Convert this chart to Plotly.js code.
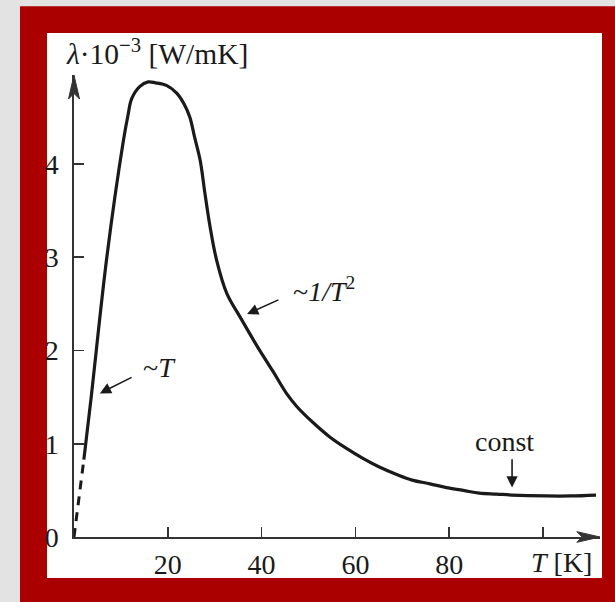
<!DOCTYPE html>
<html>
<head>
<meta charset="utf-8">
<script src="https://cdn.plot.ly/plotly-3.0.1.min.js"></script>
<style>
html,body{margin:0;padding:0;background:#e3e3e3;}
#chart{width:615px;height:602px;}
</style>
</head>
<body>
<div id="chart"></div>
<script>
// Temperature T [K] and thermal conductivity λ·10^-3 [W/mK]
var dashT = [0, 2.1];
var dashL = [0, 0.83];
var curveT = [2.1, 3.6, 7.0, 10.5, 11.5, 12.3, 14.0, 15.8, 17.4, 19.8, 21.9, 23.5, 24.7, 25.7, 26.9, 27.9, 29.0, 30.4, 32.6, 35.4, 39.0, 42.5, 45.3, 47.5, 50.9, 54.6, 58.1, 61.7, 65.1, 68.8, 72.1, 75.9, 79.4, 83.0, 86.4, 90.1, 93.4, 100.6, 106.0, 111.3];
var curveL = [0.83, 1.47, 3.0, 4.24, 4.52, 4.70, 4.83, 4.88, 4.87, 4.84, 4.76, 4.64, 4.50, 4.29, 4.04, 3.69, 3.33, 2.97, 2.61, 2.36, 2.05, 1.77, 1.54, 1.40, 1.23, 1.07, 0.95, 0.84, 0.75, 0.67, 0.61, 0.57, 0.53, 0.50, 0.47, 0.46, 0.45, 0.44, 0.44, 0.45];
var xTickVals = [20, 40, 60, 80, 100];
var xTickText = ['20', '40', '60', '80', ''];
var yTickVals = [0, 1, 2, 3, 4];
var yTickText = ['0', '1', '2', '3', '4'];

var FONT = 'Liberation Serif, Times New Roman, serif';
var INK = '#1a1a1a';
var AX = '#333333';

var traces = [
  {x: dashT, y: dashL, mode: 'lines', line: {color: INK, width: 3, dash: '9px,7px'}, hoverinfo: 'skip'},
  {x: curveT, y: curveL, mode: 'lines', line: {color: INK, width: 3.2, shape: 'spline', smoothing: 1.0}, hoverinfo: 'skip'}
];

function arrow(x, y, ax, ay) {
  return {x: x, y: y, ax: ax, ay: ay, xref: 'x', yref: 'y', axref: 'x', ayref: 'y',
    text: '', showarrow: true, arrowhead: 2, arrowsize: 1.4, arrowwidth: 1.6, arrowcolor: INK};
}
function label(x, y, text, xref, yref, xanchor, size) {
  return {x: x, y: y, xref: xref || 'x', yref: yref || 'y', text: text, showarrow: false,
    xanchor: xanchor || 'center', yanchor: 'middle', font: {family: FONT, size: size || 28, color: INK}};
}

var layout = {
  width: 615, height: 602,
  margin: {l: 74, r: 15, t: 75, b: 65, pad: 0},
  paper_bgcolor: '#e3e3e3',
  plot_bgcolor: 'rgba(0,0,0,0)',
  showlegend: false,
  font: {family: FONT, size: 28, color: INK},
  xaxis: {
    range: [0, 112.15], showgrid: false, zeroline: false, showline: true, linecolor: AX, linewidth: 1.6,
    ticks: 'inside', ticklen: 10, tickwidth: 1.6, tickcolor: AX,
    tickvals: xTickVals, ticktext: xTickText, ticklabelstandoff: 2,
    tickfont: {family: FONT, size: 28, color: INK}, fixedrange: true
  },
  yaxis: {
    range: [0, 4.954], showgrid: false, zeroline: false, showline: true, linecolor: AX, linewidth: 1.6,
    ticks: 'inside', ticklen: 10, tickwidth: 1.6, tickcolor: AX,
    tickvals: yTickVals, ticktext: yTickText, ticklabelstandoff: 8,
    tickfont: {family: FONT, size: 28, color: INK}, fixedrange: true
  },
  shapes: [
    {type: 'rect', xref: 'paper', yref: 'paper', x0: -0.1027, x1: 1.06, y0: -0.2, y1: 1.149,
      fillcolor: '#ab0000', line: {width: 0}, layer: 'below'},
    {type: 'rect', xref: 'paper', yref: 'paper', x0: -0.0513, x1: 1.0038, y0: -0.0887, y1: 1.0909,
      fillcolor: '#ffffff', line: {width: 0}, layer: 'below'},
    {type: 'path', xref: 'paper', yref: 'paper', path: 'M 1 0 L 0.956 0.0115 L 0.966 0 L 0.956 -0.0115 Z',
      fillcolor: AX, line: {color: AX, width: 1}},
    {type: 'path', xref: 'paper', yref: 'paper', path: 'M 0 1 L -0.0105 0.948 L 0 0.960 L 0.0105 0.948 Z',
      fillcolor: AX, line: {color: AX, width: 1}}
  ],
  annotations: [
    arrow(5.5, 1.54, 12.6, 1.72),
    label(18.3, 1.82, '~<i>T</i>'),
    arrow(36.9, 2.39, 43.9, 2.55),
    label(53.3, 2.65, '~<i>1/T</i><sup>2</sup>'),
    arrow(93.4, 0.53, 93.4, 0.85),
    label(91.7, 1.02, 'const'),
    label(-0.019, 1.05, '<i>λ</i>·10<sup>−3</sup> [W/mK]', 'paper', 'paper', 'left', 29.5),
    label(0.926, -0.056, '<i>T</i> [K]', 'paper', 'paper', 'center')
  ]
};

Plotly.newPlot('chart', traces, layout, {staticPlot: true, displayModeBar: false});
</script>
</body>
</html>
